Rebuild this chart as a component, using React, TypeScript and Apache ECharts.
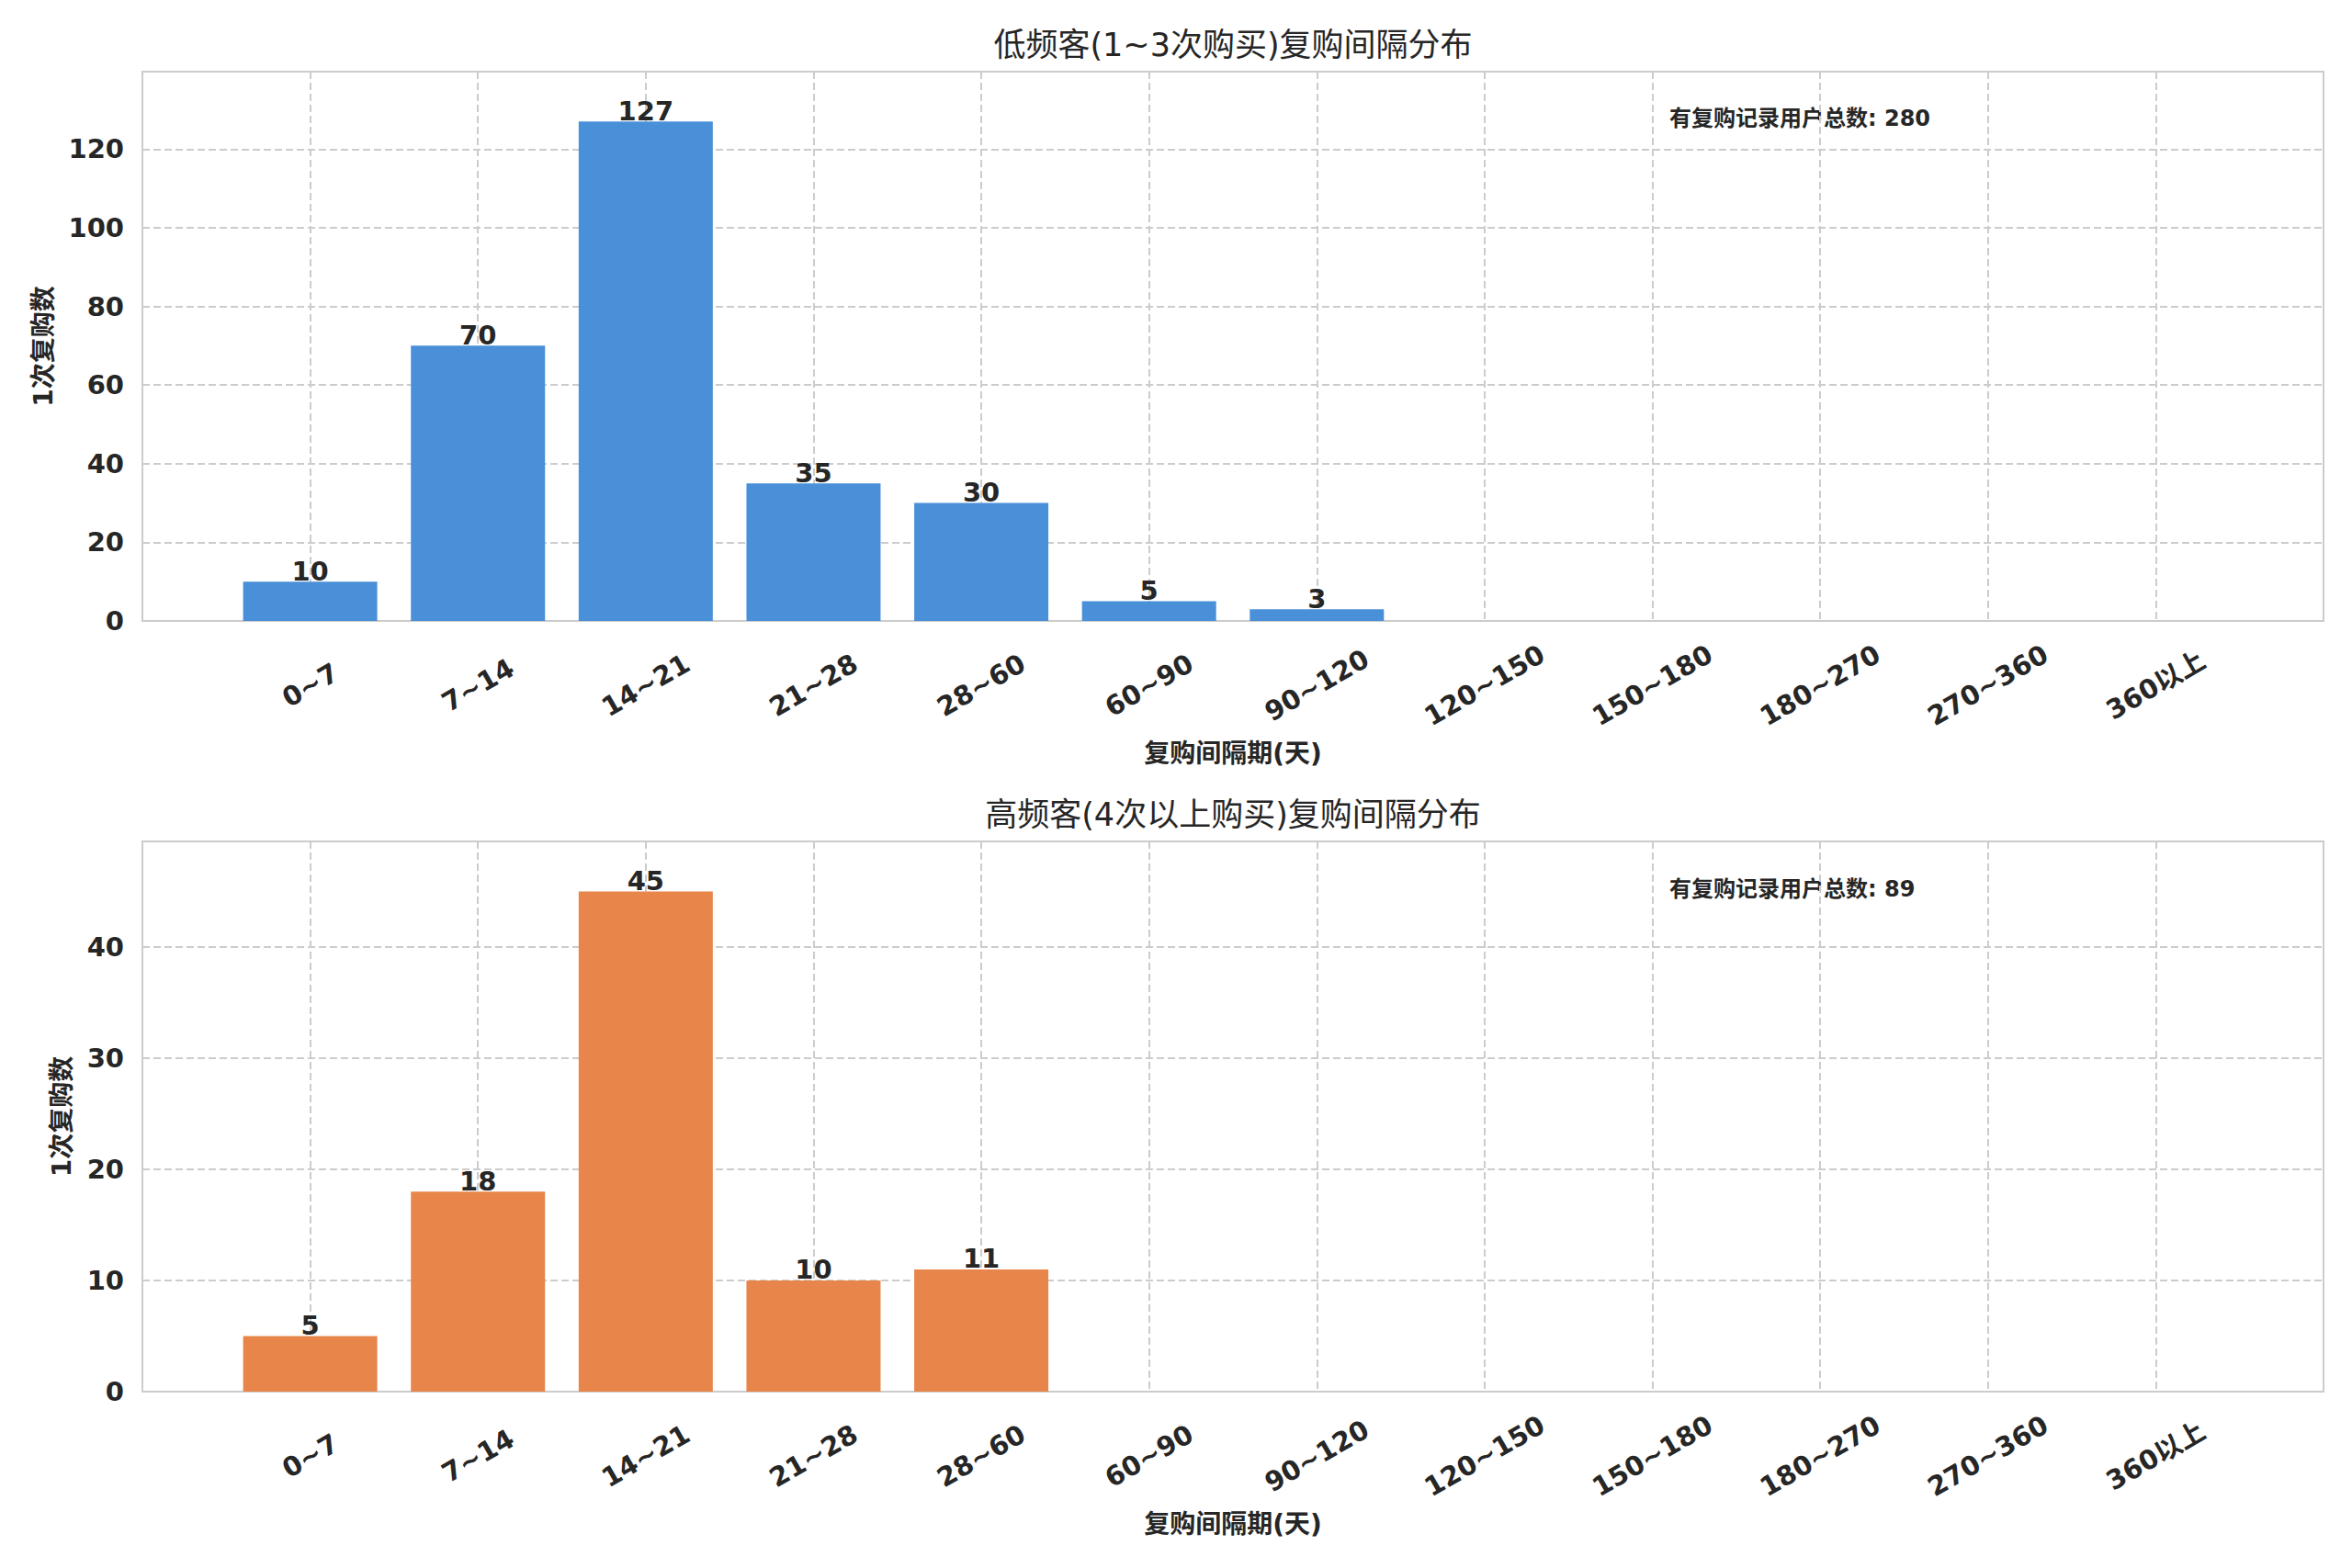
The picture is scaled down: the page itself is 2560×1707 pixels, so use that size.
import React, { useEffect, useRef } from 'react';
import * as echarts from 'echarts';

const categories = ['0~7', '7~14', '14~21', '21~28', '28~60', '60~90', '90~120', '120~150', '150~180', '180~270', '270~360', '360以上'];
const lowFreqCounts = [10, 70, 127, 35, 30, 5, 3, 0, 0, 0, 0, 0];
const highFreqCounts = [5, 18, 45, 10, 11, 0, 0, 0, 0, 0, 0, 0];

const titles = ['低频客(1~3次购买)复购间隔分布', '高频客(4次以上购买)复购间隔分布'];
const xName = '复购间隔期(天)';
const yName = '1次复购数';
const totalLabel = '有复购记录用户总数';

const FONT = '"DejaVu Sans", "Noto Sans CJK SC", sans-serif';
const TEXT = '#262626';
const GRID_LINE = '#cccccc';

const App: React.FC = () => {
  const chartRef = useRef<HTMLDivElement>(null);

  useEffect(() => {
    if (!chartRef.current) return;
    const chart = echarts.init(chartRef.current, undefined, { renderer: 'svg' });

    const sum = (arr: number[]) => arr.reduce((a, b) => a + b, 0);

    const makeX = (gridIndex: number) => ({
      type: 'value' as const,
      gridIndex,
      min: -1,
      max: 12,
      interval: 1,
      name: xName,
      nameLocation: 'middle' as const,
      nameGap: 144,
      nameTextStyle: { color: TEXT, fontSize: 28, fontWeight: 'bold' as const, fontFamily: FONT, verticalAlign: 'middle' as const },
      axisLine: { show: false },
      axisTick: { show: false },
      axisLabel: {
        color: TEXT,
        fontSize: 29,
        fontWeight: 'bold' as const,
        fontFamily: FONT,
        rotate: 30,
        align: 'center' as const,
        verticalAlign: 'middle' as const,
        margin: 70,
        formatter: (v: number) => categories[v] ?? '',
      },
      splitLine: { show: true, lineStyle: { color: GRID_LINE, width: 2, type: [8, 4] } },
    });

    const makeY = (gridIndex: number, max: number, interval: number, gap: number) => ({
      type: 'value' as const,
      gridIndex,
      min: 0,
      max,
      interval,
      name: yName,
      nameLocation: 'middle' as const,
      nameGap: gap,
      nameRotate: 90,
      nameTextStyle: { color: TEXT, fontSize: 28, fontWeight: 'bold' as const, fontFamily: FONT, verticalAlign: 'middle' as const },
      axisLine: { show: false },
      axisTick: { show: false },
      axisLabel: {
        color: TEXT,
        fontSize: 29,
        fontWeight: 'bold' as const,
        fontFamily: FONT,
        margin: 20,
        formatter: (v: number) => (v % interval === 0 ? String(v) : ''),
      },
      splitLine: { show: true, lineStyle: { color: GRID_LINE, width: 2, type: [8, 4] } },
    });

    const makeBar = (idx: number, values: number[], color: string) => ({
      type: 'bar' as const,
      xAxisIndex: idx,
      yAxisIndex: idx,
      data: values.map((v, i) => [i, v]),
      barWidth: 146,
      itemStyle: { color },
      label: {
        show: true,
        position: 'top' as const,
        distance: -3,
        color: TEXT,
        fontSize: 29,
        fontWeight: 'bold' as const,
        fontFamily: FONT,
        formatter: (p: any) => (p.value[1] > 0 ? String(p.value[1]) : ''),
      },
    });

    const option: echarts.EChartsOption = {
      animation: false,
      backgroundColor: '#ffffff',
      textStyle: { fontFamily: FONT },
      grid: [
        { left: 155, right: 31, top: 78, height: 598, show: true, borderColor: GRID_LINE, borderWidth: 2, backgroundColor: 'transparent' },
        { left: 155, right: 31, top: 916, height: 599, show: true, borderColor: GRID_LINE, borderWidth: 2, backgroundColor: 'transparent' },
      ],
      xAxis: [makeX(0), makeX(1)],
      yAxis: [makeY(0, 139.7, 20, 108), makeY(1, 49.5, 10, 88)],
      series: [makeBar(0, lowFreqCounts, '#4a90d9'), makeBar(1, highFreqCounts, '#e8854a')],
      graphic: [
        { type: 'text', x: 1342, y: 49, style: { text: titles[0], fill: TEXT, fontSize: 35, fontFamily: FONT, textAlign: 'center', textVerticalAlign: 'middle' } },
        { type: 'text', x: 1342, y: 887, style: { text: titles[1], fill: TEXT, fontSize: 35, fontFamily: FONT, textAlign: 'center', textVerticalAlign: 'middle' } },
        { type: 'text', x: 1817, y: 129, style: { text: `${totalLabel}: ${sum(lowFreqCounts)}`, fill: TEXT, fontSize: 24, fontWeight: 'bold', fontFamily: FONT, textAlign: 'left', textVerticalAlign: 'middle' } },
        { type: 'text', x: 1817, y: 968, style: { text: `${totalLabel}: ${sum(highFreqCounts)}`, fill: TEXT, fontSize: 24, fontWeight: 'bold', fontFamily: FONT, textAlign: 'left', textVerticalAlign: 'middle' } },
      ],
    };

    chart.setOption(option);
    return () => chart.dispose();
  }, []);

  return <div ref={chartRef} style={{ position: 'fixed', left: 0, top: 0, width: '2560px', height: '1707px' }} />;
};

export default App;
